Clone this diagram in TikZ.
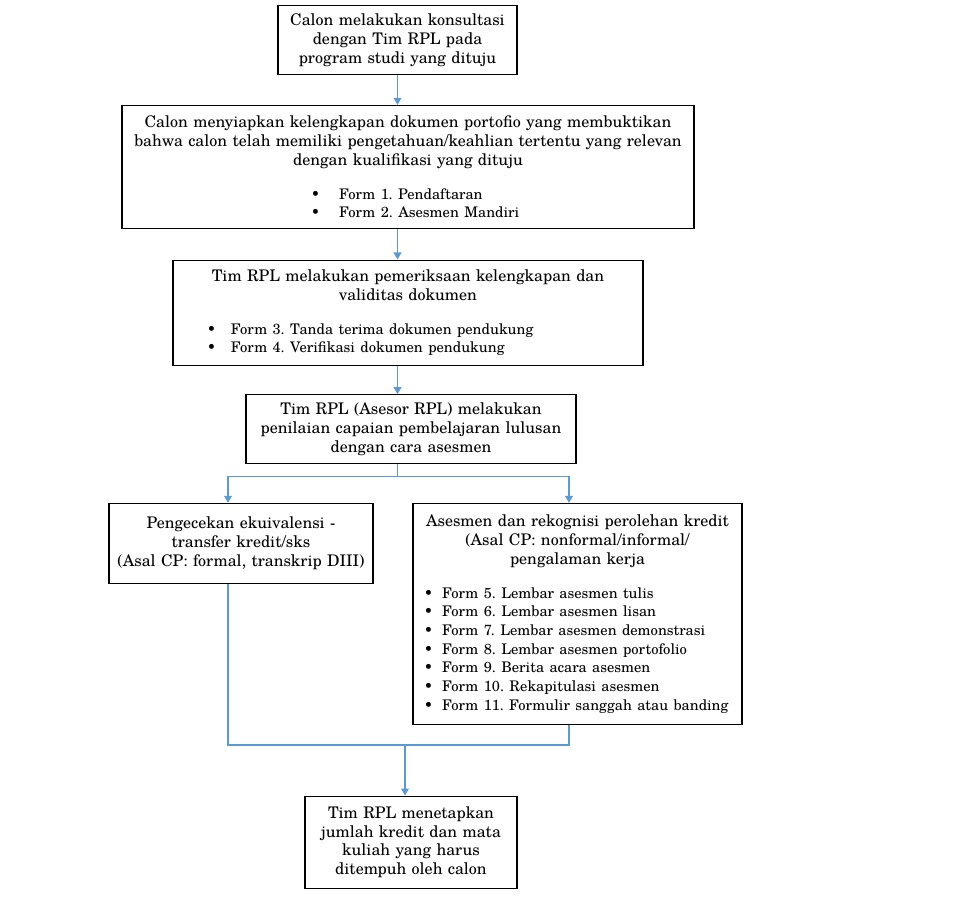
\documentclass[tikz,border=0pt]{standalone}
\usepackage{fontspec}
\setmainfont{TeX Gyre Schola}
\usepackage{tikz}
\usetikzlibrary{arrows.meta, positioning, calc}
\definecolor{biru}{RGB}{91,155,213}
\tikzstyle{kotak} = [rectangle, draw, line width=0.9pt, font=\fontsize{11.4}{13.4}\selectfont\frenchspacing, inner sep=0.13cm]
\tikzstyle{garis} = [biru, line width=1pt]
\tikzstyle{panah} = [garis, -{Triangle[width=5.5pt,length=5pt]}]
\newcommand{\hurufdaftar}{\fontsize{10.4}{13.3}\selectfont}
\newcommand{\butir}[2][0.6cm]{\mbox{\makebox[#1][l]{\textbullet}#2}\par}

\begin{document}
\begin{tikzpicture}[node distance=0.76cm]
  \useasboundingbox (0,0) rectangle (24.125,-22.525);
  \node[kotak, text width=5.715cm, minimum height=1.725cm, anchor=north] (konsul) at (9.9375,-0.125)
    {\centering Calon melakukan konsultasi\\ dengan Tim RPL pada\\ program studi yang dituju\par};
  \node[kotak, text width=14.04cm, minimum height=3.075cm, below=0.74cm of konsul, xshift=0.2625cm] (siap)
    {\centering Calon menyiapkan kelengkapan dokumen portofio yang membuktikan\\ bahwa calon telah memiliki pengetahuan/keahlian tertentu yang relevan\\ dengan kualifikasi yang dituju\par
     \vspace{0.375cm}\raggedright\leftskip=4.6cm\hurufdaftar
     \butir[0.7cm]{Form 1. Pendaftaran}
     \butir[0.7cm]{Form 2. Asesmen Mandiri}};
  \node[kotak, text width=11.49cm, minimum height=2.625cm, below=of siap] (periksa)
    {\centering Tim RPL melakukan pemeriksaan kelengkapan dan\\ validitas dokumen\par
     \vspace{0.375cm}\raggedright\leftskip=0.72cm\hurufdaftar
     \butir[0.6cm]{Form 3. Tanda terima dokumen pendukung}
     \butir[0.6cm]{Form 4. Verifikasi dokumen pendukung}};
  \node[kotak, text width=7.99cm, minimum height=1.725cm, below=0.71cm of periksa, xshift=0.075cm] (nilai)
    {\centering Tim RPL (Asesor RPL) melakukan\\ penilaian capaian pembelajaran lulusan\\ dengan cara asesmen\par};
  \node[kotak, text width=6.34cm, minimum height=2cm, below=0.96cm of nilai, xshift=-4.25cm] (ekuiv)
    {\centering Pengecekan ekuivalensi -\\ transfer kredit/sks\\ (Asal CP: formal, transkrip DIII)\par\vspace{0.35cm}};
  \node[kotak, text width=7.965cm, minimum height=5.525cm, below=0.96cm of nilai, xshift=4.1625cm] (rekog)
    {\centering Asesmen dan rekognisi perolehan kredit\\ (Asal CP: nonformal/informal/\\ pengalaman kerja\par
     \vspace{0.375cm}\raggedright\leftskip=0.15cm\hurufdaftar
     \butir[0.45cm]{Form 5. Lembar asesmen tulis}
     \butir[0.45cm]{Form 6. Lembar asesmen lisan}
     \butir[0.45cm]{Form 7. Lembar asesmen demonstrasi}
     \butir[0.45cm]{Form 8. Lembar asesmen portofolio}
     \butir[0.45cm]{Form 9. Berita acara asesmen}
     \butir[0.45cm]{Form 10. Rekapitulasi asesmen}
     \butir[0.45cm]{Form 11. Formulir sanggah atau banding}};
  \node[kotak, text width=5.04cm, minimum height=2.3cm, below=1.76cm of rekog, xshift=-4.1625cm] (tetap)
    {\centering Tim RPL menetapkan\\ jumlah kredit dan mata\\ kuliah yang harus\\ ditempuh oleh calon\par};

  % alur utama
  \draw[panah] (konsul.south) -- (konsul.south |- siap.north);
  \draw[panah] (konsul.south |- siap.south) -- (konsul.south |- periksa.north);
  \draw[panah] (konsul.south |- periksa.south) -- (konsul.south |- nilai.north);
  % cabang
  \coordinate[below=0.3cm of nilai.south -| konsul.south] (cabang);
  \draw[garis] (konsul.south |- nilai.south) -- (cabang);
  \draw[panah] (cabang) -| ([xshift=-0.325cm]ekuiv.north);
  \draw[panah] (cabang) -| ([xshift=-0.2125cm]rekog.north);
  % gabung
  \coordinate (gabung) at ($(rekog.south -| tetap.north)+(-0.15cm,-0.5cm)$);
  \draw[garis] ([xshift=-0.325cm]ekuiv.south) |- (gabung) -| ([xshift=-0.2125cm]rekog.south);
  \draw[panah] (gabung) -- (gabung |- tetap.north);
\end{tikzpicture}
\end{document}
